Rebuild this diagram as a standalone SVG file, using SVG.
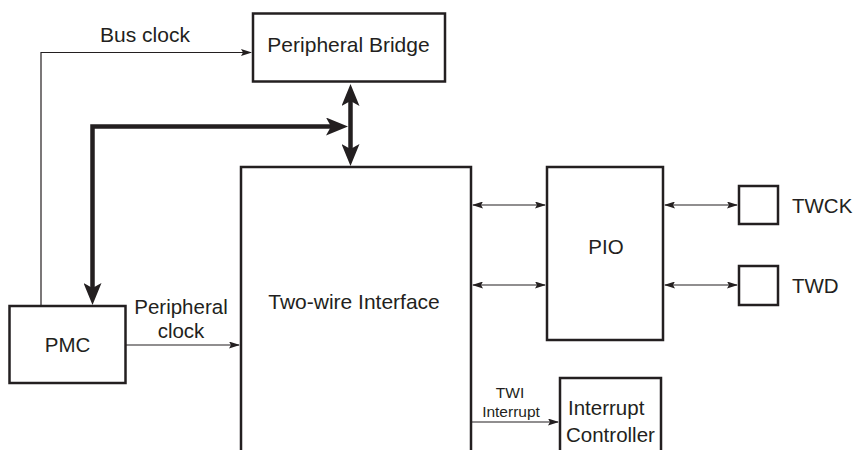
<svg xmlns="http://www.w3.org/2000/svg" width="858" height="450" viewBox="0 0 858 450">
<style>
.box{fill:#fff;stroke:#231f20;stroke-width:2.5}
.t{font-family:"Liberation Sans",Arial,sans-serif;font-size:20.5px;fill:#231f20}
.b{font-size:21px}
.s{font-family:"Liberation Sans",Arial,sans-serif;font-size:15.5px;fill:#231f20}
.thin{fill:none;stroke:#231f20;stroke-width:1.2}
.thick{fill:none;stroke:#231f20;stroke-width:4.5}
</style>
<defs>
<marker id="ah" viewBox="0 0 11 7" refX="10" refY="3.5" markerWidth="11" markerHeight="7" markerUnits="userSpaceOnUse" orient="auto-start-reverse">
<path d="M0,0 L11,3.5 L0,7 L2,3.5 z" fill="#231f20"/>
</marker>
<marker id="ahk" viewBox="0 0 22 18" refX="12" refY="9" markerWidth="22" markerHeight="18" markerUnits="userSpaceOnUse" orient="auto-start-reverse">
<path d="M0,0 L22,9 L0,18 L5,9 z" fill="#231f20"/>
</marker>
</defs>
<g id="connectors">
<path class="thin" d="M41,306 V52.5 H251" marker-end="url(#ah)"/>
<path class="thin" d="M126,345 H239" marker-end="url(#ah)"/>
<path class="thick" d="M338,126.5 H92.5 V295" marker-start="url(#ahk)" marker-end="url(#ahk)"/>
<path class="thick" d="M350.5,94 V156" marker-start="url(#ahk)" marker-end="url(#ahk)"/>
<path class="thin" d="M473,205 H545" marker-start="url(#ah)" marker-end="url(#ah)"/>
<path class="thin" d="M473,285 H545" marker-start="url(#ah)" marker-end="url(#ah)"/>
<path class="thin" d="M665,205 H737" marker-start="url(#ah)" marker-end="url(#ah)"/>
<path class="thin" d="M665,285 H737" marker-start="url(#ah)" marker-end="url(#ah)"/>
<path class="thin" d="M471,422 H558" marker-end="url(#ah)"/>
</g>
<g id="bridge"><rect class="box" x="253" y="13.5" width="192" height="68"/><text class="t b" x="348.5" y="52" text-anchor="middle">Peripheral Bridge</text></g>
<g id="twi"><rect class="box" x="241" y="167" width="230" height="300"/><text class="t b" x="354" y="309" text-anchor="middle">Two-wire Interface</text></g>
<g id="pmc"><rect class="box" x="9.5" y="306" width="116" height="77"/><text class="t" x="67.5" y="352" text-anchor="middle">PMC</text></g>
<g id="pio"><rect class="box" x="547" y="167" width="116" height="173"/><text class="t" x="606" y="254" text-anchor="middle">PIO</text></g>
<g id="twck"><rect class="box" x="739" y="186" width="39" height="38"/><text class="t" x="792" y="213">TWCK</text></g>
<g id="twd"><rect class="box" x="739" y="266" width="39" height="39"/><text class="t" x="792" y="293">TWD</text></g>
<g id="intc"><rect class="box" x="560" y="378" width="101" height="100"/><text class="t" x="568" y="415">Interrupt</text><text class="t" x="566" y="442">Controller</text></g>
<g id="labels">
<text class="t b" x="145" y="42" text-anchor="middle">Bus clock</text>
<text class="t" x="181" y="314" text-anchor="middle">Peripheral</text>
<text class="t" x="181" y="338" text-anchor="middle">clock</text>
<text class="s" x="510" y="398" text-anchor="middle">TWI</text>
<text class="s" x="511" y="417" text-anchor="middle">Interrupt</text>
</g>
</svg>
